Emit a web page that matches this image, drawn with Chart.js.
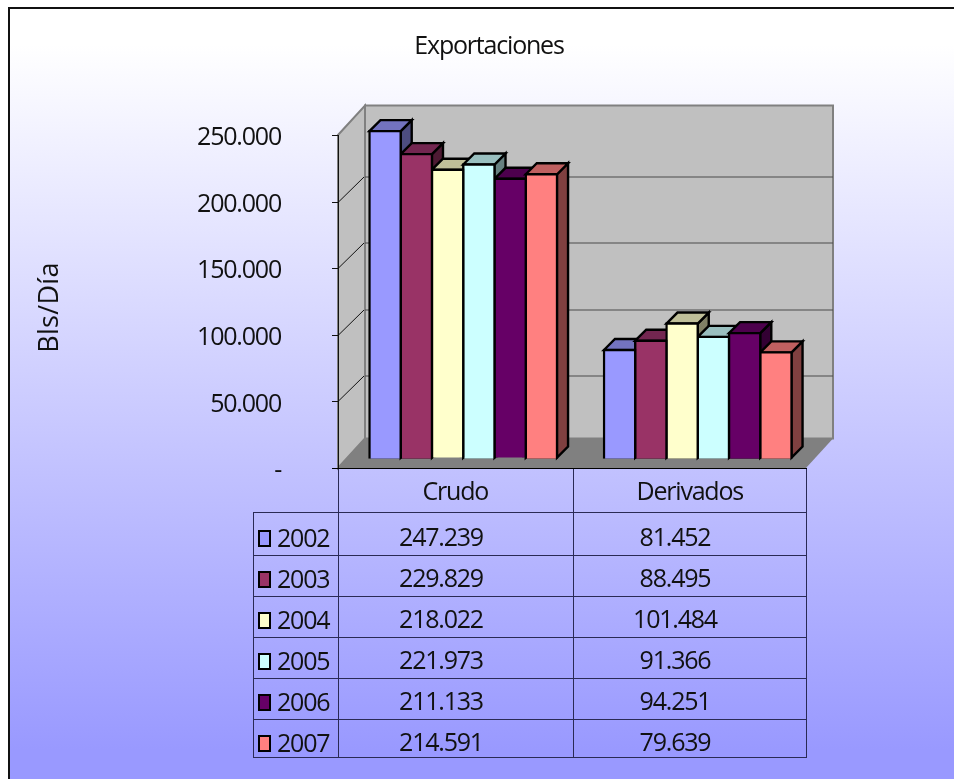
<!DOCTYPE html>
<html>
<head>
<meta charset="utf-8">
<style>html,body{margin:0;padding:0;background:#fff}canvas{display:block}</style>
<script src="https://cdn.jsdelivr.net/npm/chart.js@4"></script>
</head>
<body>
<canvas id="c" width="954" height="779"></canvas>
<script>
const categories = ['Crudo', 'Derivados'];
const years = ['2002', '2003', '2004', '2005', '2006', '2007'];
const values2002 = [247239, 81452];
const values2003 = [229829, 88495];
const values2004 = [218022, 101484];
const values2005 = [221973, 91366];
const values2006 = [211133, 94251];
const values2007 = [214591, 79639];
const tickValues = [0, 50000, 100000, 150000, 200000, 250000];
const seriesValues = [values2002, values2003, values2004, values2005, values2006, values2007];
const frontColors = ['#9999FF', '#993366', '#FFFFCC', '#CCFFFF', '#660066', '#FF8080'];
const topColors = ['#7373BF', '#732650', '#BFBF99', '#99BFBF', '#4D004D', '#BF6060'];
const sideColors = ['#4D4D80', '#4D1A33', '#808066', '#668080', '#330033', '#804040'];

const FONT = '"Open Sans", "Liberation Sans", sans-serif';
const SPACING = '-1.2px';
const fmt = v => v === 0 ? '-' : String(v).replace(/\B(?=(\d{3})+$)/g, '.');

const scene = {
  id: 'scene',
  beforeDraw(chart) {
    const ctx = chart.ctx, y = chart.scales.y;
    ctx.letterSpacing = SPACING;
    ctx.save();
    ctx.fillStyle = '#fff';
    ctx.fillRect(0, 0, 954, 779);
    const g = ctx.createLinearGradient(0, 45, 0, 750);
    g.addColorStop(0, '#FFFFFF');
    g.addColorStop(1, '#9999FF');
    ctx.fillStyle = g;
    ctx.fillRect(8, 8, 946, 771);
    ctx.strokeStyle = '#111';
    ctx.lineWidth = 2;
    ctx.beginPath();
    ctx.moveTo(9, 779); ctx.lineTo(9, 8); ctx.lineTo(954, 8);
    ctx.stroke();

    // 3D box: front edge x 338..806, back wall offset (27,-29.5)
    const fx = 338, fr = 806, dx = 27, dy = -29.5, gridDy = -25.5;
    const y0 = y.getPixelForValue(0), yM = y.getPixelForValue(250000);
    ctx.fillStyle = '#C0C0C0';
    ctx.strokeStyle = '#808080';
    ctx.lineWidth = 2;
    ctx.beginPath();
    ctx.rect(fx + dx, yM + dy, fr - fx, y0 - yM);
    ctx.fill(); ctx.stroke();
    ctx.beginPath();
    ctx.moveTo(fx, yM); ctx.lineTo(fx + dx, yM + dy); ctx.lineTo(fx + dx, y0 + dy); ctx.lineTo(fx, y0);
    ctx.closePath();
    ctx.fill(); ctx.stroke();
    ctx.fillStyle = '#808080';
    ctx.beginPath();
    ctx.moveTo(fx, y0); ctx.lineTo(fr, y0); ctx.lineTo(fr + dx, y0 + dy); ctx.lineTo(fx + dx, y0 + dy);
    ctx.closePath();
    ctx.fill();

    // gridlines, ticks, axis line from the y scale
    ctx.lineWidth = 1;
    y.ticks.forEach(t => {
      const p = Math.round(y.getPixelForValue(t.value)) + 0.5;
      const inner = t.value > 0 && t.value < 250000;
      ctx.strokeStyle = '#111';
      ctx.beginPath();
      ctx.moveTo(fx - 6, p); ctx.lineTo(fx, p);
      if (inner) ctx.lineTo(fx + dx - 1, p + gridDy);
      ctx.stroke();
      if (inner) {
        ctx.strokeStyle = '#4a4a4a';
        ctx.beginPath();
        ctx.moveTo(fx + dx, p + gridDy); ctx.lineTo(fr + dx, p + gridDy);
        ctx.stroke();
      }
    });
    ctx.strokeStyle = '#111';
    ctx.beginPath();
    ctx.moveTo(fx + 0.5, yM); ctx.lineTo(fx + 0.5, y0 + 0.5);
    ctx.stroke();

    // data table
    const rowY = [468, 512, 555, 596, 637, 678, 719, 757];
    ctx.strokeStyle = '#2A2A55';
    ctx.beginPath();
    [338, 573, 806].forEach(x => { ctx.moveTo(x + 0.5, 468); ctx.lineTo(x + 0.5, 758); });
    ctx.moveTo(253.5, 512); ctx.lineTo(253.5, 758);
    rowY.forEach((r, i) => {
      if (i === 0) return;
      ctx.moveTo(253, r + 0.5); ctx.lineTo(807, r + 0.5);
    });
    ctx.stroke();
    ctx.strokeStyle = '#000';
    ctx.beginPath();
    ctx.moveTo(332, 468.5); ctx.lineTo(807, 468.5);
    ctx.stroke();

    ctx.fillStyle = '#111';
    ctx.font = '25px ' + FONT;
    ctx.textBaseline = 'alphabetic';
    ctx.letterSpacing = SPACING;
    const baselines = [546, 587, 628, 669, 710, 751];
    years.forEach((yr, i) => {
      ctx.lineWidth = 2;
      ctx.fillStyle = frontColors[i];
      ctx.strokeStyle = '#000';
      ctx.fillRect(259, baselines[i] - 15, 11, 15);
      ctx.strokeRect(259, baselines[i] - 15, 11, 15);
      ctx.fillStyle = '#111';
      ctx.textAlign = 'left';
      ctx.fillText(yr, 277, baselines[i] + 1);
      ctx.textAlign = 'center';
      ctx.fillText(fmt(seriesValues[i][0]), 441, baselines[i]);
      ctx.fillText(fmt(seriesValues[i][1]), 675, baselines[i]);
    });

    // value-axis title
    ctx.save();
    ctx.translate(58, 307.5);
    ctx.rotate(-Math.PI / 2);
    ctx.textAlign = 'center';
    ctx.letterSpacing = '0.3px';
    ctx.font = '27px ' + FONT;
    ctx.fillText('Bls/Día', 0, 0);
    ctx.restore();
    ctx.restore();
  },
  beforeDatasetsDraw(chart) {
    // depth faces of every bar, left to right; fronts come from the library
    const ctx = chart.ctx, d = 11;
    ctx.save();
    ctx.lineWidth = 2.4;
    ctx.strokeStyle = '#000';
    ctx.lineJoin = 'miter';
    categories.forEach((_, c) => {
      years.forEach((_, s) => {
        const b = chart.getDatasetMeta(s).data[c];
        const l = b.x - b.width / 2, r = b.x + b.width / 2, t = b.y, u = b.base;
        ctx.fillStyle = sideColors[s];
        ctx.beginPath();
        ctx.moveTo(r, t); ctx.lineTo(r + d, t - d); ctx.lineTo(r + d, u - d); ctx.lineTo(r, u);
        ctx.closePath(); ctx.fill(); ctx.stroke();
        ctx.fillStyle = topColors[s];
        ctx.beginPath();
        ctx.moveTo(l, t); ctx.lineTo(l + d, t - d); ctx.lineTo(r + d, t - d); ctx.lineTo(r, t);
        ctx.closePath(); ctx.fill(); ctx.stroke();
      });
    });
    ctx.restore();
  }
};

new Chart(document.getElementById('c'), {
  type: 'bar',
  plugins: [scene],
  data: {
    labels: categories,
    datasets: years.map((yr, i) => ({
      label: yr,
      data: seriesValues[i],
      yAxisID: 'yBars',
      backgroundColor: frontColors[i],
      borderColor: '#000',
      borderWidth: 2.4,
      inflateAmount: 1.2,
      categoryPercentage: 0.8,
      barPercentage: 1
    }))
  },
  options: {
    responsive: false,
    animation: false,
    layout: { padding: { left: 163, right: 139, top: 0, bottom: 0 } },
    plugins: {
      legend: { display: false },
      tooltip: { enabled: false },
      title: {
        display: true,
        text: 'Exportaciones',
        color: '#111',
        font: { family: FONT, size: 25, weight: 'normal', lineHeight: 1.2 },
        padding: { top: 32, bottom: 44 }
      }
    },
    scales: {
      x: {
        grid: { display: false, drawTicks: false },
        border: { display: false },
        afterFit(s) { s.height = 311; },
        ticks: { color: '#111', font: { family: FONT, size: 25 }, padding: 10, labelOffset: -8, maxRotation: 0 }
      },
      y: {
        position: 'left',
        min: 0,
        max: 271772,
        grid: { display: false, drawTicks: false },
        border: { display: false },
        afterFit(s) { s.width = 183; },
        afterBuildTicks(s) { s.ticks = tickValues.map(value => ({ value })); },
        ticks: {
          autoSkip: false,
          color: '#111',
          padding: 65,
          labelOffset: 3,
          font: { family: FONT, size: 25 },
          callback: v => fmt(v)
        }
      },
      yBars: {
        display: false,
        position: 'left',
        min: -7955,
        max: 266288
      }
    }
  }
});
</script>
</body>
</html>
